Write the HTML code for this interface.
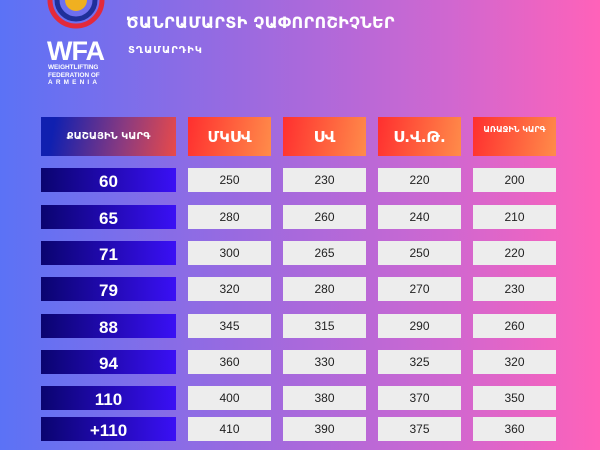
<!DOCTYPE html>
<html><head><meta charset="utf-8"><style>
*{margin:0;padding:0;box-sizing:border-box}
body{width:600px;height:450px;overflow:hidden;position:relative;background:linear-gradient(90deg,#5b72f6 0%,#9a6ae0 40%,#d067d0 75%,#ff62b9 100%);font-family:"DejaVu Sans","Liberation Sans",sans-serif}
.a{position:absolute}
.h{background:linear-gradient(100deg,#ff2f2f,#ff8c4a);color:#fff;display:flex;align-items:center;justify-content:center;top:117px;height:39px;font-weight:bold}
.w{left:41px;width:135px;background:linear-gradient(90deg,#0a0470,#3a10f5);color:#fff;font-family:"Liberation Sans",sans-serif;font-weight:bold;font-size:17px;display:flex;align-items:center;justify-content:center;height:24px;padding-top:4px}
.v{background:#ededed;color:#222;font-family:"Liberation Sans",sans-serif;font-size:12px;display:flex;align-items:center;justify-content:center;height:24px}
</style></head><body>
<svg class="a" style="left:46px;top:0" width="60" height="42" viewBox="0 0 60 42">
<path d="M4 0 A26 26 0 0 0 56 0" fill="none" stroke="#e32a3a" stroke-width="5"/>
<path d="M11 0 A19 19 0 0 0 49 0" fill="none" stroke="#1f2f9a" stroke-width="5"/>
<path d="M19 0 A11 11 0 0 0 41 0 Z" fill="#f0b020"/>
</svg>
<div class="a" style="left:47px;top:36px;color:#fff;font-family:'Liberation Sans',sans-serif;font-weight:bold;font-size:27px;letter-spacing:-1px">WFA</div>
<div class="a" style="left:48px;top:64px;color:#fff;font-family:'Liberation Sans',sans-serif;font-weight:bold;font-size:6.4px;line-height:7.5px">WEIGHTLIFTING<br>FEDERATION OF<br><span style="letter-spacing:3.2px">ARMENIA</span></div>
<div class="a" style="left:126px;top:13px;color:#fff;font-size:16px;letter-spacing:0.3px;font-weight:bold">ԾԱՆՐԱՄԱՐՏԻ ՉԱՓՈՐՈՇԻՉՆԵՐ</div>
<div class="a" style="left:128px;top:45px;color:#fff;font-size:10px;letter-spacing:1px;font-weight:bold">ՏՂԱՄԱՐԴԻԿ</div>

<div class="a h" style="left:41px;width:135px;background:linear-gradient(100deg,#1020b0 10%,#8a3a80 60%,#e84a4a);font-size:10px">ՔԱՇԱՅԻՆ ԿԱՐԳ</div>
<div class="a h" style="left:188px;width:83px;font-size:15px">ՄԿՍՎ</div>
<div class="a h" style="left:283px;width:83px;font-size:15px">ՍՎ</div>
<div class="a h" style="left:378px;width:83px;font-size:15px">Ս.Վ.Թ.</div>
<div class="a h" style="left:473px;width:83px;font-size:8px;align-items:flex-start;padding-top:8px">ԱՌԱՋԻՆ ԿԱՐԳ</div>

<div class="a w" style="top:168px">60</div>
<div class="a v" style="top:168px;left:188px;width:83px">250</div><div class="a v" style="top:168px;left:283px;width:83px">230</div><div class="a v" style="top:168px;left:378px;width:83px">220</div><div class="a v" style="top:168px;left:473px;width:83px">200</div>
<div class="a w" style="top:205px">65</div>
<div class="a v" style="top:205px;left:188px;width:83px">280</div><div class="a v" style="top:205px;left:283px;width:83px">260</div><div class="a v" style="top:205px;left:378px;width:83px">240</div><div class="a v" style="top:205px;left:473px;width:83px">210</div>
<div class="a w" style="top:241px">71</div>
<div class="a v" style="top:241px;left:188px;width:83px">300</div><div class="a v" style="top:241px;left:283px;width:83px">265</div><div class="a v" style="top:241px;left:378px;width:83px">250</div><div class="a v" style="top:241px;left:473px;width:83px">220</div>
<div class="a w" style="top:277px">79</div>
<div class="a v" style="top:277px;left:188px;width:83px">320</div><div class="a v" style="top:277px;left:283px;width:83px">280</div><div class="a v" style="top:277px;left:378px;width:83px">270</div><div class="a v" style="top:277px;left:473px;width:83px">230</div>
<div class="a w" style="top:314px">88</div>
<div class="a v" style="top:314px;left:188px;width:83px">345</div><div class="a v" style="top:314px;left:283px;width:83px">315</div><div class="a v" style="top:314px;left:378px;width:83px">290</div><div class="a v" style="top:314px;left:473px;width:83px">260</div>
<div class="a w" style="top:350px">94</div>
<div class="a v" style="top:350px;left:188px;width:83px">360</div><div class="a v" style="top:350px;left:283px;width:83px">330</div><div class="a v" style="top:350px;left:378px;width:83px">325</div><div class="a v" style="top:350px;left:473px;width:83px">320</div>
<div class="a w" style="top:386px">110</div>
<div class="a v" style="top:386px;left:188px;width:83px">400</div><div class="a v" style="top:386px;left:283px;width:83px">380</div><div class="a v" style="top:386px;left:378px;width:83px">370</div><div class="a v" style="top:386px;left:473px;width:83px">350</div>
<div class="a w" style="top:417px">+110</div>
<div class="a v" style="top:417px;left:188px;width:83px">410</div><div class="a v" style="top:417px;left:283px;width:83px">390</div><div class="a v" style="top:417px;left:378px;width:83px">375</div><div class="a v" style="top:417px;left:473px;width:83px">360</div>
</body></html>
